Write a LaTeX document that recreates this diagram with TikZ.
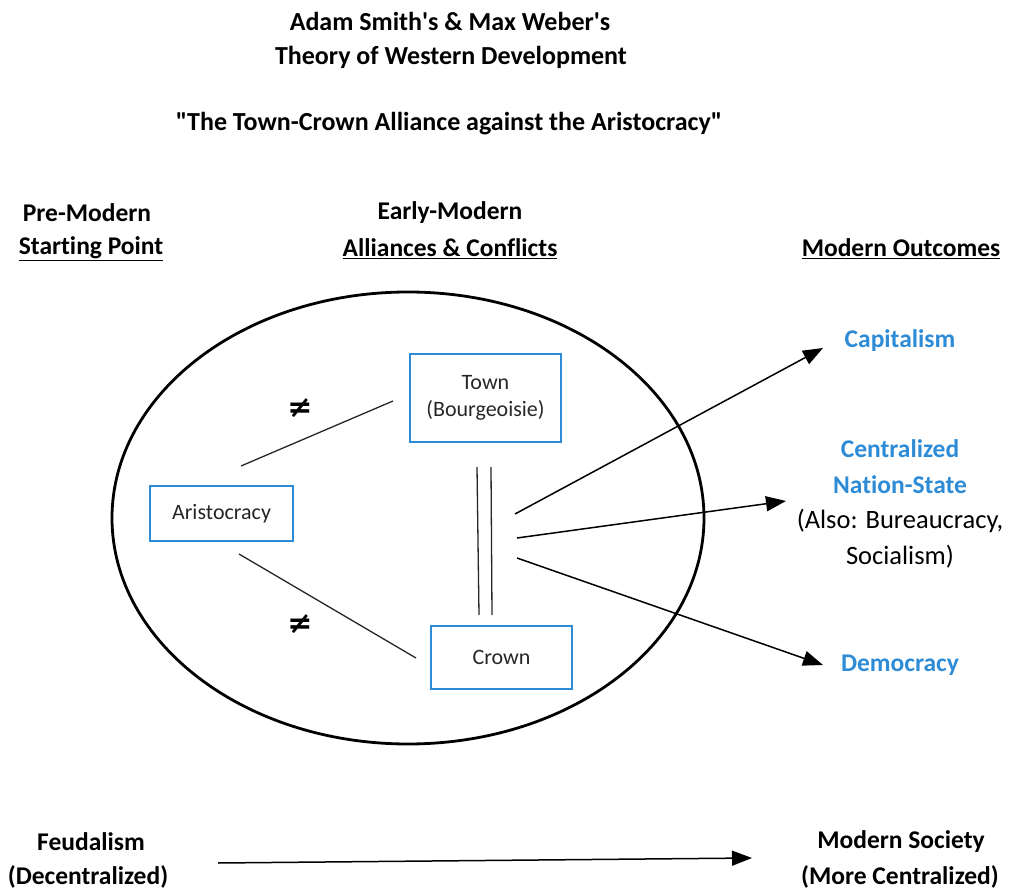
\documentclass[tikz,border=0pt]{standalone}
\usepackage{fontspec}
\defaultfontfeatures[\rmfamily]{}
\setmainfont[Ligatures=NoCommon]{Carlito}
\newfontfamily\symfont{DejaVu Sans}
\usetikzlibrary{arrows.meta}
\definecolor{boxblue}{RGB}{46,140,215}
\newcommand{\sq}{\symbol{39}}
\newcommand{\dq}{\symbol{34}}
\tikzset{
  title/.style={font=\fontsize{26}{31}\selectfont\bfseries, anchor=center, inner sep=0pt},
  head/.style={font=\fontsize{25.5}{30}\selectfont\bfseries, anchor=center, inner sep=0pt},
  outc/.style={font=\fontsize{25.5}{30}\selectfont\bfseries, text=boxblue, anchor=center, inner sep=0pt},
  outn/.style={font=\fontsize{26.5}{31}\selectfont, anchor=center, inner sep=0pt},
  actor/.style={draw=boxblue, line width=1.8pt, font=\fontsize{22}{28}\selectfont, text=black!85, align=center, inner sep=0pt},
  neq/.style={font=\fontsize{30}{34}\selectfont\symfont\bfseries, inner sep=0pt},
  link/.style={line width=1.3pt, black!85},
  flow/.style={line width=1.5pt, -{Triangle[length=20pt,width=15pt]}}
}
\begin{document}
\begin{tikzpicture}[x=1pt,y=-1pt]
\useasboundingbox (0,0) rectangle (1010,890);
% titles
\node[title] (t1) at (450,21) {Adam Smith\sq s \& Max Weber\sq s};
\node[title] (t2) at (451,57) {Theory of Western Development};
\node[title] (t3) at (449,124) {\dq The Town-Crown Alliance against the Aristocracy\dq};
% column headings
\node[head] (h1a) at (87,213) {Pre-Modern};
\node[head] (h1b) at (91,249) {\underline{Starting Point}};
\node[head] (h2a) at (450,213) {Early-Modern};
\node[head] (h2b) at (450,249) {\underline{Alliances \& Conflicts}};
\node[head] (h3b) at (901,249) {\underline{Modern Outcomes}};
% ellipse
\draw[line width=2.8pt] (408,518) ellipse [x radius=296, y radius=226];
% actors
\node[actor, minimum width=151pt, minimum height=88pt] (town) at (485.5,398) {Town\\[-1pt](Bourgeoisie)};
\node[actor, minimum width=143pt, minimum height=55pt] (aris) at (221.5,513.5) {Aristocracy};
\node[actor, minimum width=141pt, minimum height=63pt] (crown) at (501.5,657.5) {Crown};
% link end points
\coordinate (a1) at (241,466);
\coordinate (t1e) at (393,401);
\coordinate (a2) at (239,554);
\coordinate (c1) at (416,658);
\coordinate (d1t) at (477,467);
\coordinate (d1b) at (479,615);
\coordinate (d2t) at (491,467);
\coordinate (d2b) at (492,615);
\draw[link] (a1) -- (t1e);
\draw[link] (a2) -- (c1);
\draw[link] (d1t) -- (d1b);
\draw[link] (d2t) -- (d2b);
\node[neq] (n1) at (300,408) {≠};
\node[neq] (n2) at (300,624) {≠};
% outcomes
\node[outc] (cap) at (900,341) {Capitalism};
\node[outc] (cen1) at (900,449) {Centralized};
\node[outc] (cen2) at (900,485) {Nation-State};
\node[outn] (cen3) at (900,521) {(Also: Bureaucracy,};
\node[outn] (cen4) at (900,557) {Socialism)};
\node[outc] (dem) at (900,665) {Democracy};
\coordinate (s1) at (515,514);
\coordinate (s2) at (517,538);
\coordinate (s3) at (517,558);
\coordinate (e1) at (823,348);
\coordinate (e2) at (786,501);
\coordinate (e3) at (823,665);
\draw[flow] (s1) -- (e1);
\draw[flow] (s2) -- (e2);
\draw[flow] (s3) -- (e3);
% bottom
\node[head] (f1) at (91,842) {Feudalism};
\node[head] (f2) at (88,877) {(Decentralized)};
\node[head] (m1) at (901,842) {Modern Society};
\node[head] (m2) at (900,877) {(More Centralized)};
\coordinate (b1) at (218,863);
\coordinate (b2) at (752,858);
\draw[flow] (b1) -- (b2);
\end{tikzpicture}
\end{document}
